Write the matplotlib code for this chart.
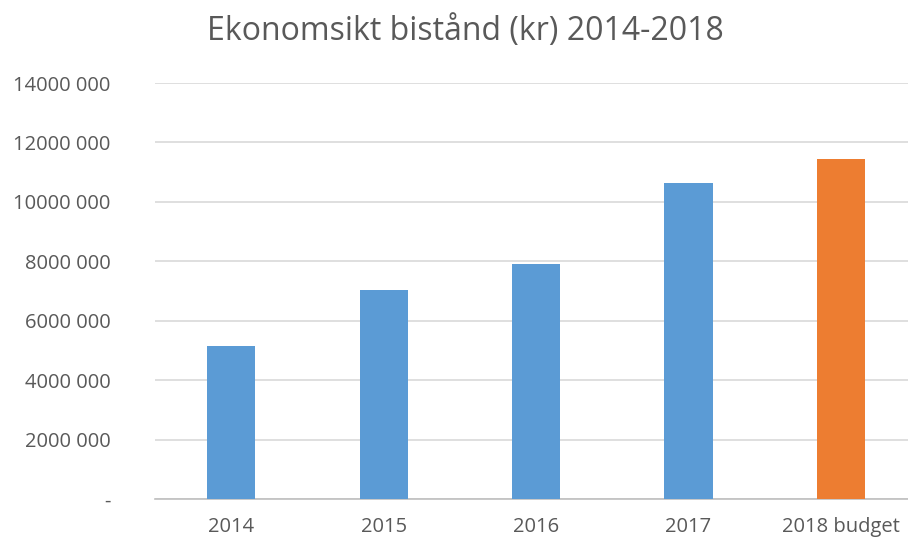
import matplotlib.pyplot as plt
from matplotlib.ticker import FuncFormatter, MultipleLocator

# data
categories = ["2014", "2015", "2016", "2017", "2018 budget"]
values = [5150000, 7040000, 7910000, 10630000, 11440000]
bar_colors = ["#5B9BD5", "#5B9BD5", "#5B9BD5", "#5B9BD5", "#ED7D31"]

plt.rcParams["font.family"] = ["Open Sans", "DejaVu Sans"]
text_color = "#595959"


def fmt(v, pos):
    if v == 0:
        return "-"
    v = int(round(v))
    return f"{v // 1000} {v % 1000:03d}"


fig = plt.figure(figsize=(9.08, 5.41), dpi=100)
ax = fig.add_axes([155 / 908, 1 - 499 / 541, 1 - 155 / 908, (499 - 83) / 541])

x = range(len(categories))
ax.bar(x, values, width=0.315, color=bar_colors, zorder=3)

ax.set_xlim(-0.5, 4.44)
ax.set_ylim(0, 14000000)
ax.yaxis.set_major_locator(MultipleLocator(2000000))
ax.yaxis.set_major_formatter(FuncFormatter(fmt))
ax.set_xticks(list(x))
ax.set_xticklabels(categories)

ax.grid(axis="y", color="#D9D9D9", linewidth=1.2, zorder=0)
for s in ["top", "right", "left"]:
    ax.spines[s].set_visible(False)
ax.spines["bottom"].set_color("#BFBFBF")
ax.spines["bottom"].set_linewidth(1.2)

ax.tick_params(axis="both", length=0, labelsize=14.5, labelcolor=text_color)
ax.tick_params(axis="y", pad=32)
ax.tick_params(axis="x", pad=13)

fig.text(0.512, 0.942, "Ekonomsikt bistånd (kr) 2014-2018", ha="center", va="center",
         fontsize=23, color=text_color)

fig.savefig("out.png", dpi=100, facecolor="white")
